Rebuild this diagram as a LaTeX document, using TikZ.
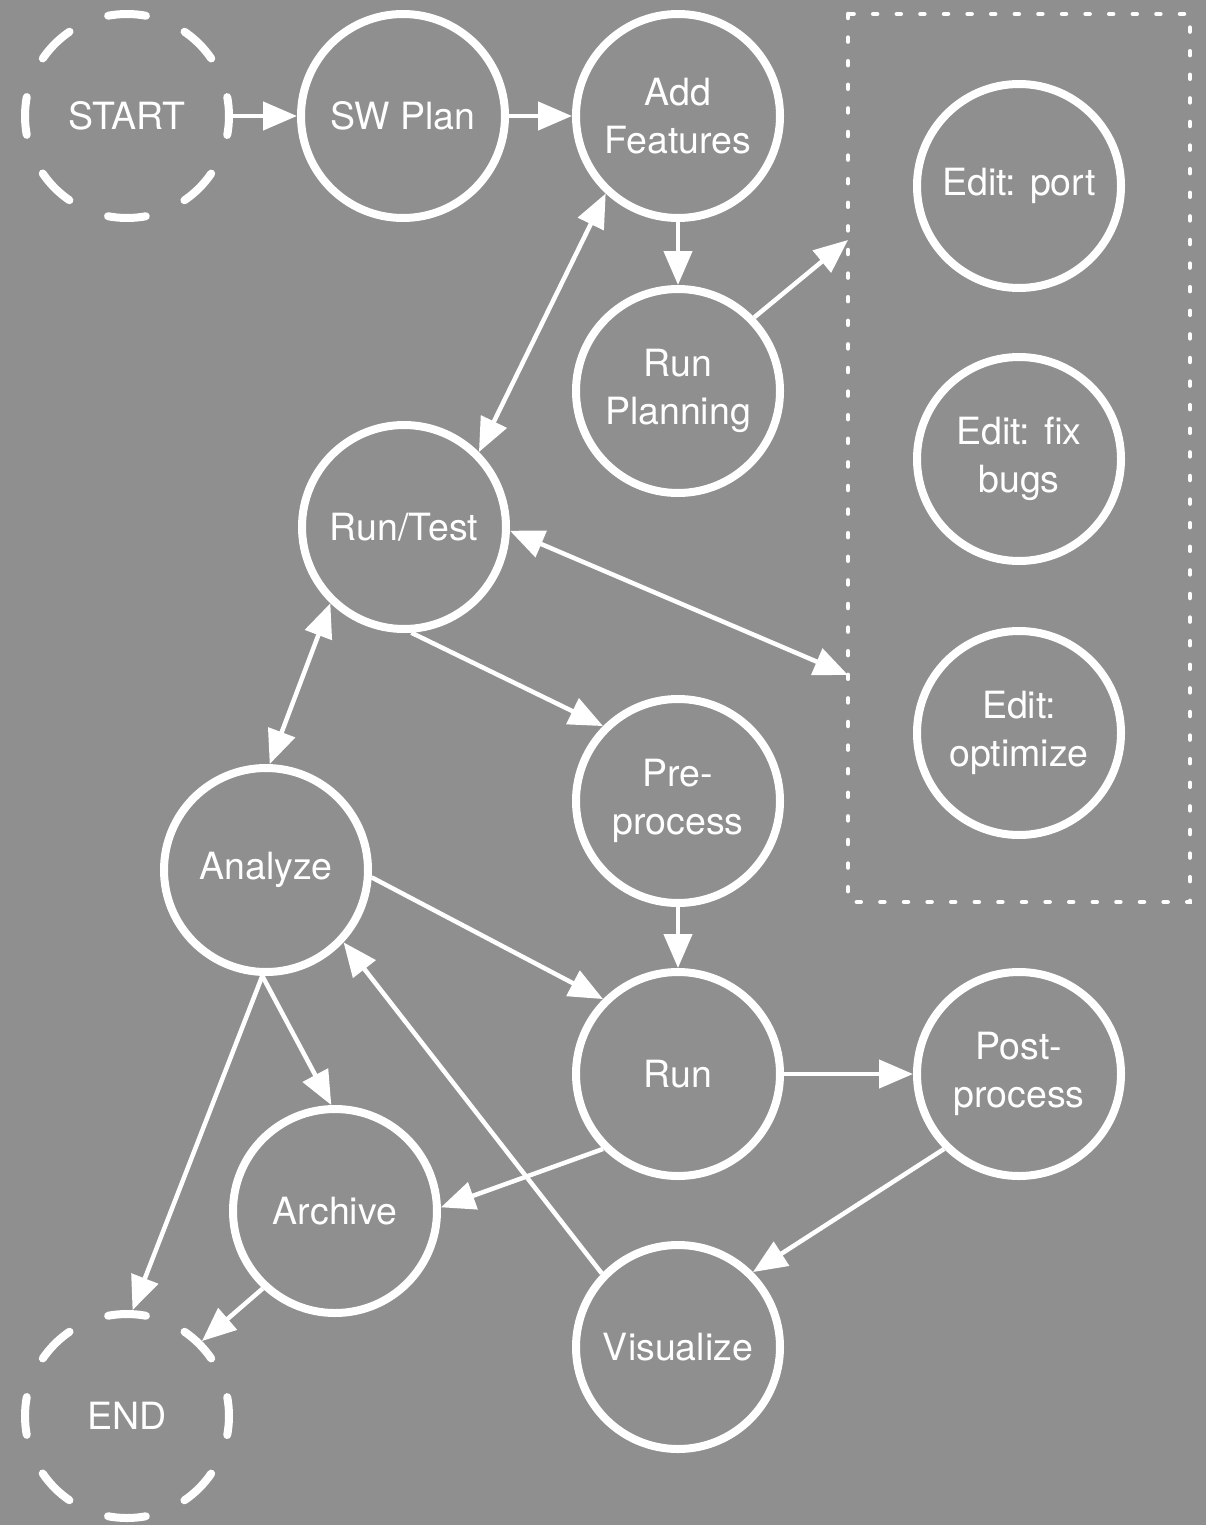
\documentclass[tikz,border=0pt]{standalone}
\usepackage{fontspec}
\setmainfont{TeX Gyre Heros}
\usetikzlibrary{arrows.meta}
\definecolor{bg}{RGB}{143,143,143}
\tikzset{
  st/.style={circle, draw=white, line width=8pt, minimum size=204pt, inner sep=0pt,
    text=white, align=center, font=\fontsize{37.5}{48}\selectfont},
  term/.style={st, dash pattern=on 38pt off 42.1pt, dash phase=19pt, line cap=round},
  arr/.style={draw=white, line width=4.5pt, -{Triangle[length=34pt,width=28pt]}},
  darr/.style={draw=white, line width=4.5pt, {Triangle[length=34pt,width=28pt]}-{Triangle[length=34pt,width=28pt]}},
  grp/.style={draw=white, line width=4.5pt, dash pattern=on 4pt off 19.6pt, line cap=round}
}
\begin{document}
\begin{tikzpicture}[x=1pt,y=-1pt]
\fill[bg] (0,0) rectangle (1206,1525);
\useasboundingbox (0,0) rectangle (1206,1525);
\draw[grp] (848,14) rectangle (1190,902);
\coordinate (b1) at (848,240);
\coordinate (b2) at (848,675);

\node[term] (start) at (127,116) {START};
\node[st] (sw) at (403,116) {SW Plan};
\node[st] (af) at (678,116) {Add\\Features};
\node[st] (rp) at (678,391) {Run\\Planning};
\node[st] (rt) at (404,527) {Run/Test};
\node[st] (pp) at (678,801) {Pre-\\process};
\node[st] (an) at (266,870) {Analyze};
\node[st] (run) at (678,1074) {Run};
\node[st] (post) at (1019,1074) {Post-\\process};
\node[st] (arch) at (335,1211) {Archive};
\node[st] (vis) at (678,1347) {Visualize};
\node[term] (end) at (127,1416) {END};
\node[st] (e1) at (1019,186) {Edit: port};
\node[st] (e2) at (1019,459) {Edit: fix\\bugs};
\node[st] (e3) at (1019,733) {Edit:\\optimize};

\draw[arr] (start.0) -- (sw.180);
\draw[arr] (sw.0) -- (af.180);
\draw[arr] (af.270) -- (rp.90);
\draw[arr] (rp.44) -- (b1);
\draw[darr] (af.227) -- (rt.45);
\draw[darr] (rt.-2) -- (b2);
\draw[arr] (rt.274) -- (pp.135);
\draw[darr] (rt.226) -- (an.88);
\draw[arr] (pp.270) -- (run.90);
\draw[arr] (an.-4) -- (run.135);
\draw[arr] (run.0) -- (post.180);
\draw[arr] (post.225) -- (vis.45);
\draw[arr] (vis.136) -- (an.-43);
\draw[arr] (run.225) -- (arch.2);
\draw[arr] (an.268) -- (arch.92);
\draw[arr] (an.268) -- (end.87);
\draw[arr] (arch.227) -- (end.45);
\end{tikzpicture}
\end{document}
